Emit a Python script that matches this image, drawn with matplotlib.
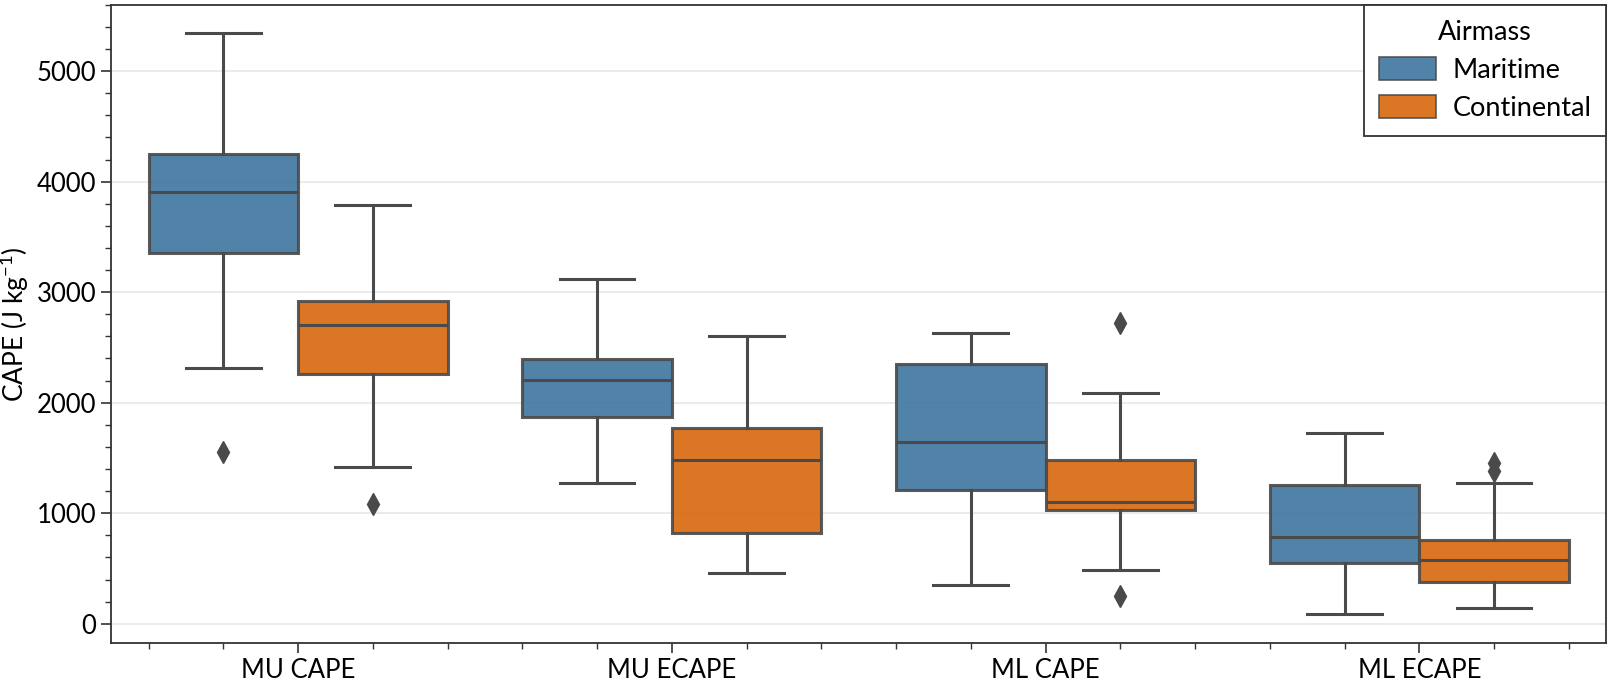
import matplotlib
matplotlib.use("Agg")
import matplotlib.pyplot as plt
from matplotlib.patches import Patch
from matplotlib.ticker import AutoMinorLocator, MultipleLocator

plt.rcParams['font.family'] = ['Lato', 'DejaVu Sans']
plt.rcParams['mathtext.default'] = 'regular'

categories = ["MU CAPE", "MU ECAPE", "ML CAPE", "ML ECAPE"]
airmasses = ["Maritime", "Continental"]
colors = {"Maritime": "#3e749e", "Continental": "#d8670c"}

# Box statistics per airmass, one entry per category (J kg-1)
whislo = {
    "Maritime":    [2314, 1273, 353, 93],
    "Continental": [1422, 455, 483, 139],
}
q1 = {
    "Maritime":    [3355, 1868, 1208, 548],
    "Continental": [2258, 818, 1032, 381],
}
med = {
    "Maritime":    [3903, 2203, 1645, 781],
    "Continental": [2704, 1478, 1106, 576],
}
q3 = {
    "Maritime":    [4247, 2398, 2351, 1255],
    "Continental": [2918, 1775, 1478, 762],
}
whishi = {
    "Maritime":    [5344, 3123, 2630, 1729],
    "Continental": [3792, 2602, 2091, 1273],
}
fliers = {
    "Maritime":    [[1552], [], [], []],
    "Continental": [[1087], [], [2723, 251], [1459, 1385]],
}

line_col = "#4a4a4a"
spine_col = "#333333"
lw = 2.2

fig = plt.figure(figsize=(16.11, 6.82), dpi=100)
ax = fig.add_axes([0.069, 0.057, 0.928, 0.936])

box_w = 0.4
offsets = {"Maritime": -0.2, "Continental": 0.2}
for am in airmasses:
    stats = []
    for i in range(len(categories)):
        stats.append(dict(whislo=whislo[am][i], q1=q1[am][i], med=med[am][i],
                          q3=q3[am][i], whishi=whishi[am][i], fliers=fliers[am][i]))
    pos = [i + offsets[am] for i in range(len(categories))]
    ax.bxp(stats, positions=pos, widths=box_w, patch_artist=True,
           showfliers=True, manage_ticks=False,
           boxprops=dict(facecolor=colors[am], edgecolor=line_col, linewidth=lw, alpha=0.9),
           medianprops=dict(color=line_col, linewidth=lw),
           whiskerprops=dict(color=line_col, linewidth=lw),
           capprops=dict(color=line_col, linewidth=lw),
           flierprops=dict(marker='d', markersize=11, markerfacecolor=line_col,
                           markeredgecolor=line_col, linestyle='none'))

ax.set_xlim(-0.5, len(categories) - 0.5)
ax.set_ylim(-175, 5600)
ax.set_xticks(range(len(categories)))
ax.set_xticklabels(categories)
ax.xaxis.set_minor_locator(AutoMinorLocator(5))
ax.yaxis.set_major_locator(MultipleLocator(1000))
ax.yaxis.set_minor_locator(AutoMinorLocator(5))

ax.set_axisbelow(True)
ax.grid(axis='y', which='major', color='#e6e6e6', linewidth=1.1)

for s in ax.spines.values():
    s.set_color(spine_col)
    s.set_linewidth(1.3)
ax.tick_params(which='major', length=7, width=1.2, color=spine_col, labelsize=18.5,
               labelcolor='black')
ax.tick_params(which='minor', length=4, width=1.0, color=spine_col)

ax.set_ylabel("CAPE (J kg$^{-1}$)", fontsize=19)
ax.yaxis.set_label_coords(-0.0535, 0.5)

handles = [Patch(facecolor=colors[am], edgecolor=line_col, linewidth=1.2, alpha=0.9, label=am)
           for am in airmasses]
leg = ax.legend(handles=handles, title="Airmass", loc="upper right", fontsize=19.5,
                title_fontsize=19.5, frameon=True, fancybox=False, borderaxespad=0,
                handlelength=2.1, handleheight=0.95, handletextpad=0.6,
                borderpad=0.55, labelspacing=0.45)
leg.get_frame().set_edgecolor(spine_col)
leg.get_frame().set_linewidth(1.3)
leg.get_frame().set_alpha(1)

fig.savefig("out.png", dpi=100)
